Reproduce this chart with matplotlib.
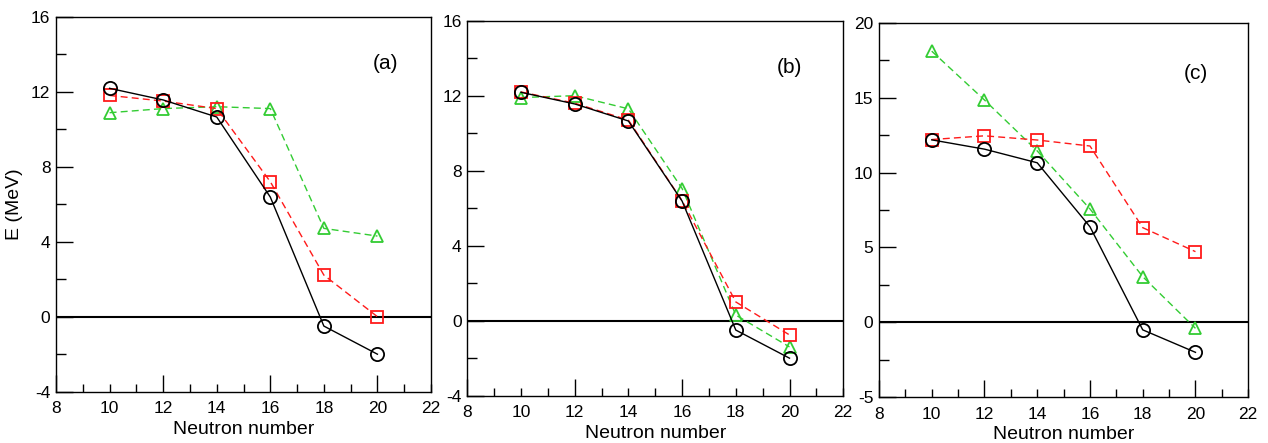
import numpy as np
import matplotlib
matplotlib.use("Agg")
import matplotlib.pyplot as plt

plt.rcParams['font.family'] = ['Liberation Sans', 'DejaVu Sans']
plt.rcParams['axes.unicode_minus'] = False

# Neutron numbers
neutrons = [10, 12, 14, 16, 18, 20]

# Experimental values (black circles), same in all panels
exp_vals = [12.18, 11.56, 10.65, 6.38, -0.5, -2.0]

# Panel (a)
red_a = [11.8, 11.5, 11.1, 7.2, 2.22, 0.0]
green_a = [10.88, 11.1, 11.2, 11.1, 4.71, 4.3]

# Panel (b)
red_b = [12.2, 11.6, 10.7, 6.4, 1.0, -0.76]
green_b = [11.9, 12.0, 11.3, 7.05, 0.3, -1.4]

# Panel (c)
red_c = [12.2, 12.45, 12.17, 11.77, 6.32, 4.72]
green_c = [18.1, 14.84, 11.44, 7.57, 3.05, -0.4]

panel_labels = ['(a)', '(b)', '(c)']
y_ranges = [(-4, 16), (-4, 16), (-5, 20)]
y_steps = [4, 4, 5]
label_pos = [(20.3, 13.5), (20.0, 13.5), (20.0, 16.6)]

fig = plt.figure(figsize=(12.68, 4.43), dpi=100)
rects = [
    [0.0442, 0.1158, 0.2957, 0.8465],
    [0.3685, 0.1068, 0.2965, 0.8465],
    [0.6932, 0.1032, 0.2912, 0.8456],
]

reds = [red_a, red_b, red_c]
greens = [green_a, green_b, green_c]

for i in range(3):
    ax = fig.add_axes(rects[i])
    ax.axhline(0, color='black', lw=1.5, zorder=1)
    ax.plot(neutrons, greens[i], color='#33cc33', ls=(0, (5, 3)), lw=1,
            marker='^', ms=9, mfc='none', mec='#33cc33', mew=1.3)
    ax.plot(neutrons, reds[i], color='#ff1a1a', ls=(0, (5, 3)), lw=1,
            marker='s', ms=8.5, mfc='none', mec='#ff1a1a', mew=1.3)
    ax.plot(neutrons, exp_vals, color='black', lw=1,
            marker='o', ms=9.5, mfc='none', mec='black', mew=1.3)

    ax.set_xlim(8, 22)
    ax.set_ylim(*y_ranges[i])
    ax.set_xticks(np.arange(8, 23, 2))
    ax.set_xticks(np.arange(8, 23, 1), minor=True)
    step = y_steps[i]
    ax.set_yticks(np.arange(y_ranges[i][0], y_ranges[i][1] + 1, step))
    ax.set_yticks(np.arange(y_ranges[i][0], y_ranges[i][1] + 0.1, step / 2), minor=True)
    ax.tick_params(which='both', direction='in', top=False, right=False,
                   labelsize=12.5, width=1)
    ax.tick_params(which='major', length=6, pad=7)
    ax.tick_params(which='minor', length=6)
    # longer ticks at multiples of 4 on x, all majors on y
    for t, v in zip(ax.xaxis.get_major_ticks(), np.arange(8, 23, 2)):
        if v % 4 == 0:
            t.tick1line.set_markersize(12)
    ax.tick_params(axis='y', which='major', length=12, pad=4)
    ax.tick_params(axis='y', which='minor', length=7)
    for s in ax.spines.values():
        s.set_linewidth(1)

    ax.set_xlabel('Neutron number', fontsize=14, labelpad=3)
    if i == 0:
        ax.set_ylabel('E (MeV)', fontsize=14, labelpad=6)
    ax.text(label_pos[i][0], label_pos[i][1], panel_labels[i], fontsize=15,
            ha='center', va='center')

fig.savefig('out.png', dpi=100)
